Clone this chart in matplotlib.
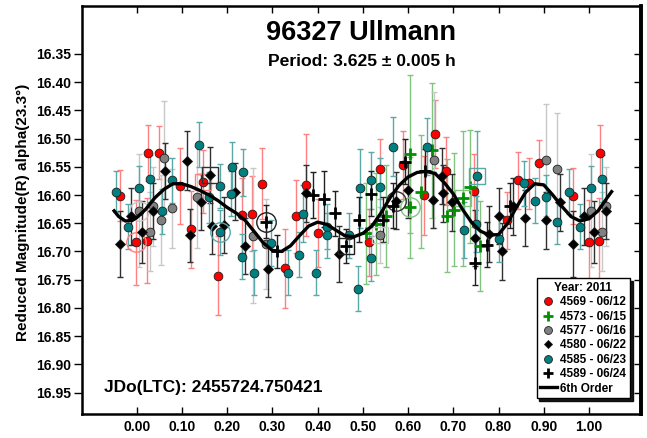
import matplotlib
matplotlib.use("Agg")
import matplotlib.pyplot as plt
from matplotlib.lines import Line2D

plt.rcParams['font.family'] = ['Liberation Sans', 'DejaVu Sans']
plt.rcParams['font.weight'] = 'bold'

# ---- data ----
# 4569 - 06/12 (red circles)
red_ph = [-0.036, -0.002, 0.025, 0.023, 0.049, 0.095, 0.120, 0.147, 0.180, 0.232,
          0.255, 0.278, 0.327, 0.352, 0.375, 0.401, 0.514, 0.538, 0.588, 0.635,
          0.659, 0.684, 0.746, 0.818, 0.844, 0.868, 0.890, 0.965, 1.001, 1.023, 1.024]
red_mag = [16.601, 16.684, 16.525, 16.681, 16.525, 16.584, 16.661, 16.576, 16.743, 16.636,
           16.633, 16.580, 16.730, 16.638, 16.582, 16.667, 16.684, 16.554, 16.547, 16.600,
           16.492, 16.558, 16.592, 16.645, 16.574, 16.579, 16.543, 16.602, 16.684, 16.681, 16.525]
red_err = [0.045, 0.075, 0.050, 0.075, 0.047, 0.067, 0.069, 0.055, 0.070, 0.066,
           0.067, 0.063, 0.070, 0.065, 0.090, 0.060, 0.060, 0.053, 0.060, 0.070,
           0.060, 0.060, 0.065, 0.050, 0.050, 0.045, 0.040, 0.050, 0.075, 0.075, 0.050]

# 4573 - 06/15 (green plus)
grn_ph = [0.508, 0.530, 0.552, 0.604, 0.604, 0.628, 0.652, 0.685, 0.701, 0.722, 0.737, 0.759]
grn_mag = [16.668, 16.651, 16.637, 16.527, 16.622, 16.594, 16.521, 16.637, 16.626, 16.606, 16.585, 16.690]
grn_err = [0.090, 0.090, 0.090, 0.140, 0.090, 0.100, 0.120, 0.100, 0.100, 0.120, 0.100, 0.080]

# 4577 - 06/16 (gray circles)
gry_ph = [0.005, 0.029, 0.036, 0.053, 0.060, 0.077, 0.133, 0.256, 0.285, 0.539,
          0.657, 0.906, 0.930, 1.004, 1.029, 1.038]
gry_mag = [16.628, 16.665, 16.620, 16.644, 16.534, 16.623, 16.603, 16.672, 16.687, 16.671,
           16.538, 16.538, 16.554, 16.628, 16.665, 16.620]
gry_err = [0.100, 0.070, 0.070, 0.080, 0.100, 0.070, 0.090, 0.120, 0.080, 0.050,
           0.120, 0.100, 0.100, 0.100, 0.070, 0.070]

# 4580 - 06/22 (black diamonds)
blk_ph = [-0.038, -0.012, 0.012, 0.036, 0.062, 0.111, 0.117, 0.143, 0.161, 0.167,
          0.192, 0.217, 0.240, 0.290, 0.374, 0.448, 0.573, 0.600, 0.654, 0.676,
          0.678, 0.698, 0.748, 0.780, 0.802, 0.807, 0.831, 0.858, 0.906, 0.937,
          0.964, 0.988, 1.011, 1.038]
blk_mag = [16.687, 16.638, 16.665, 16.628, 16.557, 16.539, 16.671, 16.612, 16.564, 16.655,
           16.653, 16.594, 16.690, 16.731, 16.597, 16.704, 16.610, 16.591, 16.609, 16.566,
           16.597, 16.613, 16.676, 16.669, 16.637, 16.700, 16.620, 16.641, 16.645, 16.613,
           16.687, 16.638, 16.665, 16.628]
blk_err = [0.058, 0.050, 0.055, 0.050, 0.050, 0.052, 0.047, 0.050, 0.050, 0.050,
           0.050, 0.050, 0.050, 0.050, 0.050, 0.050, 0.050, 0.050, 0.050, 0.050,
           0.050, 0.050, 0.050, 0.050, 0.050, 0.050, 0.050, 0.050, 0.050, 0.050,
           0.058, 0.050, 0.055, 0.050]

# 4585 - 06/23 (teal circles)
tea_ph = [-0.045, -0.019, 0.005, 0.030, 0.055, 0.079, 0.137, 0.160, 0.185, 0.185,
          0.208, 0.210, 0.233, 0.235, 0.260, 0.298, 0.335, 0.359, 0.368, 0.396,
          0.420, 0.420, 0.470, 0.489, 0.493, 0.517, 0.517, 0.538, 0.567, 0.641,
          0.723, 0.750, 0.752, 0.800, 0.856, 0.881, 0.906, 0.930, 0.956, 0.980,
          1.004, 1.029]
tea_mag = [16.594, 16.656, 16.588, 16.571, 16.629, 16.574, 16.511, 16.604, 16.584, 16.666,
           16.598, 16.550, 16.709, 16.560, 16.738, 16.685, 16.738, 16.706, 16.633, 16.738,
           16.656, 16.671, 16.671, 16.766, 16.588, 16.574, 16.712, 16.585, 16.514, 16.514,
           16.662, 16.651, 16.566, 16.678, 16.579, 16.610, 16.604, 16.647, 16.594, 16.656,
           16.588, 16.571]
tea_err = [0.036, 0.040, 0.040, 0.042, 0.040, 0.040, 0.040, 0.045, 0.039, 0.040,
           0.040, 0.044, 0.040, 0.041, 0.040, 0.040, 0.040, 0.040, 0.050, 0.040,
           0.040, 0.040, 0.040, 0.040, 0.070, 0.050, 0.040, 0.050, 0.052, 0.050,
           0.050, 0.050, 0.080, 0.040, 0.040, 0.040, 0.040, 0.040, 0.040, 0.040,
           0.040, 0.042]

# 4589 - 06/24 (black plus)
bpl_ph = [0.285, 0.310, 0.389, 0.414, 0.438, 0.462, 0.492, 0.517, 0.545, 0.566,
          0.593, 0.637, 0.748, 0.775, 0.825]
bpl_mag = [16.647, 16.700, 16.600, 16.607, 16.632, 16.691, 16.644, 16.598, 16.644, 16.619,
           16.541, 16.558, 16.720, 16.688, 16.619]
bpl_err = [0.030, 0.030, 0.040, 0.050, 0.040, 0.030, 0.040, 0.040, 0.040, 0.040,
           0.040, 0.040, 0.040, 0.040, 0.040]

# flagged points (index into each session): rings and boxes
red_ring, red_box = [1], [7]
grn_ring, grn_box = [4], [9]
gry_ring, gry_box = [0], [9]
blk_ring, blk_box = [16], [8]
tea_ring, tea_box = [9], [32]
bpl_ring, bpl_box = [0], [5]

# 6th order fit
fit_ph = [-0.05, -0.04, -0.025, -0.01, 0.00, 0.02, 0.04, 0.06, 0.08, 0.10,
          0.12, 0.14, 0.16, 0.18, 0.20, 0.22, 0.24, 0.26, 0.28, 0.30,
          0.32, 0.34, 0.36, 0.38, 0.40, 0.42, 0.44, 0.46, 0.48, 0.50,
          0.52, 0.54, 0.56, 0.58, 0.60, 0.62, 0.64, 0.66, 0.68, 0.70,
          0.72, 0.74, 0.76, 0.78, 0.80, 0.82, 0.84, 0.86, 0.88, 0.90,
          0.92, 0.94, 0.96, 0.98, 1.00, 1.02, 1.04, 1.05]
fit_mag = [16.628, 16.638, 16.646, 16.645, 16.640, 16.625, 16.605, 16.590, 16.580, 16.580,
           16.585, 16.592, 16.600, 16.610, 16.622, 16.632, 16.645, 16.665, 16.685, 16.698,
           16.700, 16.690, 16.672, 16.655, 16.648, 16.652, 16.662, 16.672, 16.674, 16.668,
           16.655, 16.632, 16.605, 16.583, 16.568, 16.560, 16.558, 16.562, 16.578, 16.598,
           16.625, 16.648, 16.664, 16.671, 16.670, 16.650, 16.621, 16.595, 16.580, 16.582,
           16.600, 16.620, 16.638, 16.646, 16.642, 16.628, 16.605, 16.594]

x_ticks = [0.0, 0.1, 0.2, 0.3, 0.4, 0.5, 0.6, 0.7, 0.8, 0.9, 1.0]
y_ticks = [16.35, 16.40, 16.45, 16.50, 16.55, 16.60, 16.65, 16.70, 16.75, 16.80, 16.85, 16.90, 16.95]

sessions = [
    # ph, mag, err, label, marker, face, err color, size, ring, box
    (red_ph, red_mag, red_err, '4569 - 06/12', 'o', '#ff0000', '#ff8080', 6.3, red_ring, red_box),
    (grn_ph, grn_mag, grn_err, '4573 - 06/15', '+', '#009000', '#80c480', 8, grn_ring, grn_box),
    (gry_ph, gry_mag, gry_err, '4577 - 06/16', 'o', '#808080', '#c8c8c8', 6.3, gry_ring, gry_box),
    (blk_ph, blk_mag, blk_err, '4580 - 06/22', 'D', '#000000', '#303030', 4.6, blk_ring, blk_box),
    (tea_ph, tea_mag, tea_err, '4585 - 06/23', 'o', '#008080', '#5aa8a8', 6.3, tea_ring, tea_box),
    (bpl_ph, bpl_mag, bpl_err, '4589 - 06/24', '+', '#000000', '#202020', 8, bpl_ring, bpl_box),
]

fig = plt.figure(figsize=(6.47, 4.38), dpi=100)
ax = fig.add_axes([82 / 647, 1 - 414 / 438, (641 - 82) / 647, (414 - 6) / 438])

handles = []
for ph, mag, err, lab, mk, fc, ec, ms, ring, box in sessions:
    ax.errorbar(ph, mag, yerr=err, fmt='none', ecolor=ec, elinewidth=1.0,
                capsize=2.5, capthick=1.0, zorder=2)
    if mk == '+':
        ax.plot(ph, mag, ls='none', marker='+', ms=ms, mew=2.0, color=fc, zorder=3)
        h = Line2D([], [], ls='none', marker='+', ms=ms, mew=2.0, color=fc)
    else:
        ax.plot(ph, mag, ls='none', marker=mk, ms=ms, mfc=fc, mec='#202020', mew=0.6, zorder=3)
        h = Line2D([], [], ls='none', marker=mk, ms=ms, mfc=fc, mec='#202020', mew=0.6)
    handles.append(h)
    ax.plot([ph[i] for i in ring], [mag[i] for i in ring], ls='none', marker='o', ms=14,
            mfc='none', mec=ec, mew=1.0, zorder=3)
    ax.plot([ph[i] for i in box], [mag[i] for i in box], ls='none', marker='s', ms=11,
            mfc='none', mec=ec, mew=1.0, zorder=3)

ax.plot(fit_ph, fit_mag, color='black', lw=2.4, zorder=4)
handles.append(Line2D([], [], color='black', lw=2.4))

ax.set_xlim(-0.121, 1.115)
ax.set_ylim(16.988, 16.265)
ax.set_xticks(x_ticks)
ax.set_xticklabels([f'{v:.2f}' for v in x_ticks])
ax.set_yticks(y_ticks)
ax.set_yticklabels([f'{v:.2f}' for v in y_ticks])
ax.tick_params(axis='x', direction='in', top=True, length=5, width=1, pad=4, labelsize=10)
ax.tick_params(axis='y', direction='out', length=6, width=1, pad=2, labelsize=10)

# inward ticks on the right side
ax_r = ax.secondary_yaxis('right')
ax_r.set_yticks(y_ticks)
ax_r.tick_params(axis='y', direction='in', length=5, width=1, labelright=False)

for s in ax.spines.values():
    s.set_linewidth(1.8)
ax.spines['right'].set_linewidth(2.6)
ax_r.spines['right'].set_linewidth(2.6)

ax.text(0.5, 0.934, '96327 Ullmann', transform=ax.transAxes, ha='center', va='center',
        fontsize=19.5, fontweight='bold')
ax.text(0.5, 0.863, 'Period: 3.625 ± 0.005 h', transform=ax.transAxes, ha='center',
        va='center', fontsize=12.6, fontweight='bold')
ax.text(0.039, 0.065, 'JDo(LTC): 2455724.750421', transform=ax.transAxes, ha='left',
        va='center', fontsize=12.5, fontweight='bold')
fig.text(0.036, 0.514, 'Reduced Magnitude(R) alpha(23.3°)', rotation=90, ha='center',
         va='center', fontsize=11, fontweight='bold')

labels = [s[3] for s in sessions] + ['6th Order']
leg = ax.legend(handles, labels, title='Year: 2011', loc='lower right',
                bbox_to_anchor=(0.980, 0.039), borderaxespad=0, fancybox=False,
                shadow={'color': 'black', 'alpha': 0.9}, framealpha=1,
                edgecolor='black', prop={'size': 8.5, 'weight': 'bold'},
                title_fontproperties={'size': 8.5, 'weight': 'bold'},
                handlelength=1.4, handletextpad=0.3, labelspacing=0.2,
                borderpad=0.3, markerscale=0.9)
leg.get_frame().set_linewidth(1.0)
leg.set_zorder(10)

fig.savefig('out.png', dpi=100)
